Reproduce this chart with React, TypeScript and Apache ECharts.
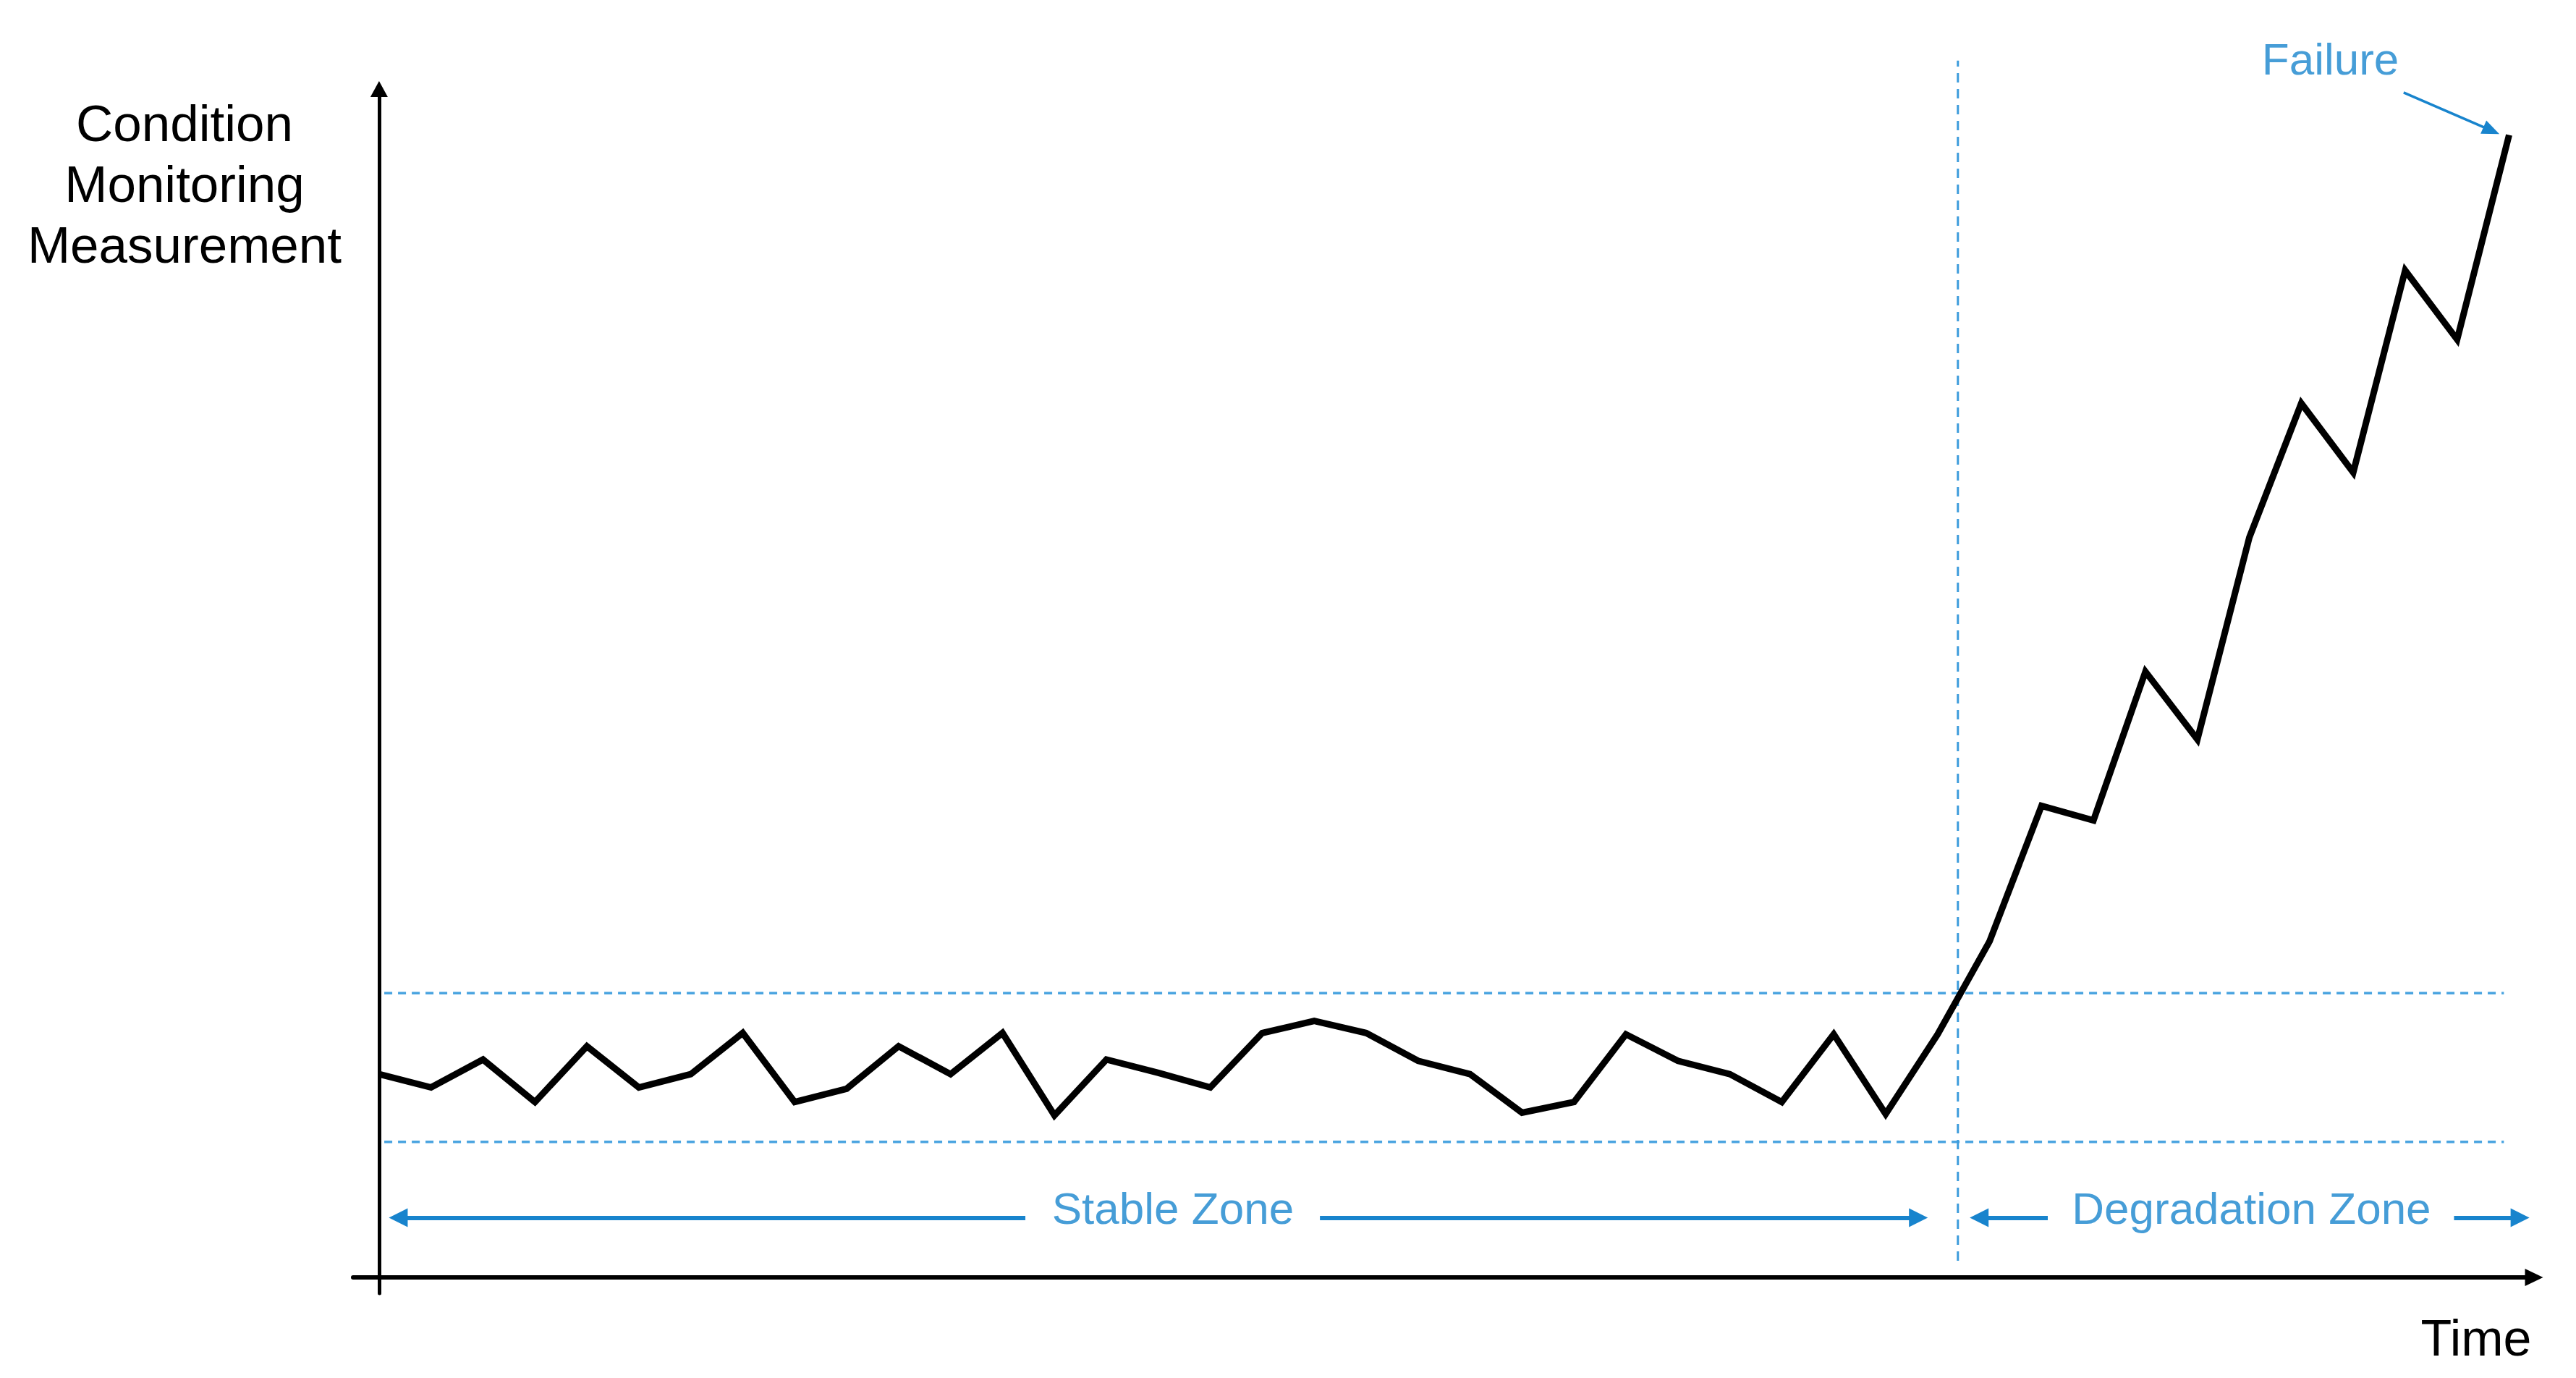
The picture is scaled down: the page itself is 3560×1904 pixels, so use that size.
import { useEffect, useRef } from "react";
import * as echarts from "echarts";

// Condition monitoring measurement at each time step (index = time step)
const measurement = [
  15.3, 14.3, 16.4, 13.2, 17.4, 14.3, 15.3, 18.4, 13.2, 14.2,
  17.4, 15.3, 18.4, 12.2, 16.4, 15.4, 14.3, 18.4, 19.3, 18.4,
  16.3, 15.3, 12.4, 13.2, 18.3, 16.3, 15.3, 13.2, 18.3, 12.3,
  18.3, 25.3, 35.5, 34.4, 45.6, 40.5, 55.7, 65.8, 60.6, 75.8,
  70.6, 86.0,
];

// Stable-band limits and their time span
const upperLimit = 21.4;
const lowerLimit = 10.2;
const limitSpan = [0.1, 40.9];

// Onset of degradation (vertical divider) and its vertical extent
const onsetTime = 30.39;
const onsetSpan = [1.25, 91.6];

// Zone arrows: [from, to] along time, at the given height
const zoneArrowLevel = 4.5;
const stableArrowLeft = [0.37, 12.44];
const stableArrowRight = [18.11, 29.63];
const degradArrowLeft = [30.8, 32.12];
const degradArrowRight = [39.94, 41.21];

// Failure pointer [x, y] start and end
const failureFrom = [38.97, 89.2];
const failureTo = [40.66, 86.33];

// Annotation labels
const annotations = [
  { name: "Stable Zone", value: [15.28, 5.2] },
  { name: "Degradation Zone", value: [36.04, 5.2] },
  { name: "Failure", value: [37.56, 91.72] },
];

const yAxisTitle = "Condition\nMonitoring\nMeasurement";
const xAxisTitle = "Time";

const FONT = '"Liberation Sans", Arial, Helvetica, sans-serif';
const BLUE = "#1884cd";
const DASH_BLUE = "#4aa4e0";

export default function App() {
  const ref = useRef<HTMLDivElement>(null);

  useEffect(() => {
    document.body.style.margin = "0";
    if (!ref.current) return;
    const chart = echarts.init(ref.current, undefined, { renderer: "svg" });

    const head = [26, 26];
    const arrowLine = (span: number[], y: number, startHead: boolean, endHead: boolean) => [
      {
        coord: [span[0], y],
        symbol: startHead ? "triangle" : "none",
        symbolSize: head,
      },
      {
        coord: [span[1], y],
        symbol: endHead ? "triangle" : "none",
        symbolSize: head,
      },
    ];

    const zoneMarks = {
      silent: true,
      animation: false,
      symbolSize: head,
      label: { show: false },
      emphasis: { disabled: true },
      lineStyle: { color: BLUE, width: 6, type: "solid" },
      data: [
        arrowLine(stableArrowLeft, zoneArrowLevel, true, false),
        arrowLine(stableArrowRight, zoneArrowLevel, false, true),
        arrowLine(degradArrowLeft, zoneArrowLevel, true, false),
        arrowLine(degradArrowRight, zoneArrowLevel, false, true),
      ],
    };

    const failureMark = {
      silent: true,
      animation: false,
      symbol: ["none", "triangle"],
      symbolSize: [20, 24],
      label: { show: false },
      emphasis: { disabled: true },
      lineStyle: { color: BLUE, width: 3.5, type: "solid" },
      data: [[{ coord: failureFrom }, { coord: failureTo }]],
    };

    const option: any = {
      animation: false,
      backgroundColor: "#ffffff",
      grid: { left: 488, right: 58, top: 123, bottom: 117, containLabel: false },
      xAxis: {
        type: "value",
        min: -0.5,
        max: 41.48,
        axisLine: {
          onZero: true,
          symbol: ["none", "triangle"],
          symbolSize: [24, 25],
          lineStyle: { color: "#000", width: 6 },
        },
        axisTick: { show: false },
        axisLabel: { show: false },
        splitLine: { show: false },
      },
      yAxis: {
        type: "value",
        min: -1.2,
        max: 89.46,
        axisLine: {
          onZero: true,
          symbol: ["none", "triangle"],
          symbolSize: [24, 22],
          lineStyle: { color: "#000", width: 5 },
        },
        axisTick: { show: false },
        axisLabel: { show: false },
        splitLine: { show: false },
      },
      graphic: [
        {
          type: "text",
          x: 255,
          y: 254,
          style: {
            text: yAxisTitle,
            font: `71px ${FONT}`,
            fill: "#000",
            align: "center",
            verticalAlign: "middle",
            lineHeight: 84,
          },
        },
        {
          type: "text",
          x: 3422,
          y: 1849,
          style: {
            text: xAxisTitle,
            font: `70px ${FONT}`,
            fill: "#000",
            align: "center",
            verticalAlign: "middle",
          },
        },
      ],
      series: [
        {
          name: "upper",
          type: "line",
          data: [
            [limitSpan[0], upperLimit],
            [limitSpan[1], upperLimit],
          ],
          symbol: "none",
          silent: true,
          lineStyle: { color: DASH_BLUE, width: 3.5, type: [11, 8] },
        },
        {
          name: "lower",
          type: "line",
          data: [
            [limitSpan[0], lowerLimit],
            [limitSpan[1], lowerLimit],
          ],
          symbol: "none",
          silent: true,
          lineStyle: { color: DASH_BLUE, width: 3.5, type: [11, 8] },
        },
        {
          name: "onset",
          type: "line",
          clip: false,
          data: [
            [onsetTime, onsetSpan[0]],
            [onsetTime, onsetSpan[1]],
          ],
          symbol: "none",
          silent: true,
          lineStyle: { color: "#3d9cdc", width: 3, type: [13, 9] },
        },
        {
          name: "measurement",
          type: "line",
          data: measurement.map((v, i) => [i, v]),
          symbol: "none",
          z: 5,
          lineStyle: { color: "#000", width: 9, join: "miter", miterLimit: 10 },
        },
        {
          name: "zoneArrows",
          type: "line",
          data: [],
          clip: false,
          markLine: zoneMarks,
        },
        {
          name: "failureArrow",
          type: "line",
          data: [],
          clip: false,
          markLine: failureMark,
        },
        {
          name: "labels",
          type: "scatter",
          clip: false,
          silent: true,
          symbol: "circle",
          symbolSize: 1,
          itemStyle: { color: "rgba(0,0,0,0)" },
          data: annotations,
          label: {
            show: true,
            position: "inside",
            formatter: "{b}",
            color: BLUE,
            fontSize: 62,
            fontFamily: FONT,
          },
        },
      ],
    };

    chart.setOption(option);
    return () => chart.dispose();
  }, []);

  return <div ref={ref} style={{ width: 3560, height: 1904 }} />;
}
